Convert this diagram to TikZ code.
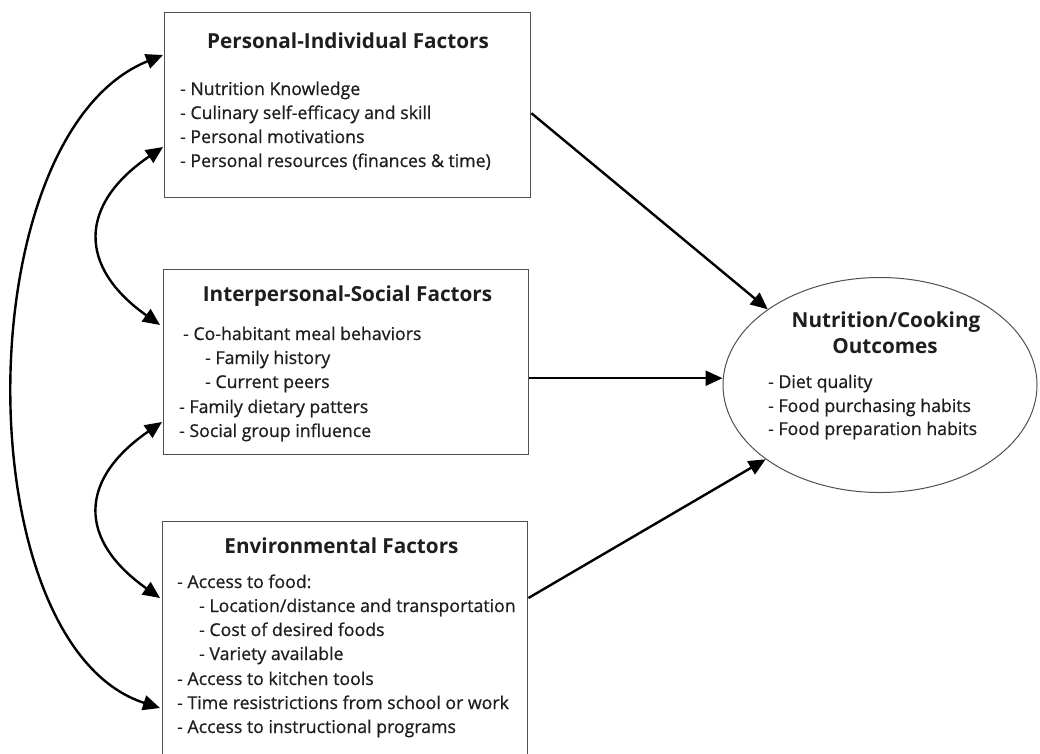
\documentclass[tikz,border=0pt]{standalone}
\usepackage{fontspec}
\setmainfont{Open Sans}
\newfontfamily\bodyfont[BoldFont={Open Sans}, BoldFeatures={FakeBold=0.7}]{Open Sans}
\usetikzlibrary{arrows.meta,shapes.geometric,calc}
\definecolor{boxgray}{HTML}{505050}
\definecolor{txt}{HTML}{1E1E1E}
\begin{document}
\begin{tikzpicture}[x=1pt,y=-1pt,
  box/.style={draw=boxgray, line width=1.4pt, rectangle, inner sep=0pt, anchor=north west},
  ttl/.style={font=\fontsize{20.7}{24}\selectfont\bfseries, text=txt, inner sep=0pt, anchor=base},
  ln/.style={font=\bodyfont\bfseries\fontsize{17.7}{20}\selectfont, text=txt, inner sep=0pt, anchor=base west},
  arr/.style={line width=2.4pt, -{Triangle[length=17pt,width=15pt]}},
  darr/.style={line width=2.4pt, {Triangle[length=17pt,width=15pt]}-{Triangle[length=17pt,width=15pt]}},
]
\useasboundingbox (0,0) rectangle (1040,753);
\clip (0,0) rectangle (1040,753);
\fill[white] (0,0) rectangle (1040,753);

% boxes
\node[box, minimum width=366pt, minimum height=185pt] (p1) at (164,12) {};
\node[box, minimum width=365pt, minimum height=185pt] (p2) at (163,269) {};
\node[box, minimum width=365pt, minimum height=260pt] (p3) at (162,521) {};
\node[ellipse, draw=boxgray, line width=1pt, inner sep=0pt,
      minimum width=314pt, minimum height=215pt] (o) at (880,385) {};

% box 1 text
\node[ttl] (t1) at (348,48) {Personal-Individual Factors};
\foreach \x/\y/\t [count=\i] in {
  180/95/{- Nutrition Knowledge},
  180/119/{- Culinary self-efficacy and skill},
  180/143/{- Personal motivations},
  180/167/{- Personal resources (finances \& time)}}
  \node[ln] (a\i) at (\x,\y) {\t};

% box 2 text
\node[ttl] (t2) at (347.5,301) {Interpersonal-Social Factors};
\foreach \x/\y/\t [count=\i] in {
  183/340/{- Co-habitant meal behaviors},
  205/364/{- Family history},
  205/388/{- Current peers},
  179/413/{- Family dietary patters},
  179/437/{- Social group influence}}
  \node[ln] (b\i) at (\x,\y) {\t};

% box 3 text
\node[ttl] (t3) at (341.5,553) {Environmental Factors};
\foreach \x/\y/\t [count=\i] in {
  177/588/{- Access to food:},
  199/612/{- Location/distance and transportation},
  199/636/{- Cost of desired foods},
  199/660/{- Variety available},
  177/685/{- Access to kitchen tools},
  177/709/{- Time resistrictions from school or work},
  177/733/{- Access to instructional programs}}
  \node[ln] (c\i) at (\x,\y) {\t};

% ellipse text
\node[ttl] (t4) at (886,327) {Nutrition/Cooking};
\node[ttl] (t5) at (885,353) {Outcomes};
\foreach \x/\y/\t [count=\i] in {
  768/388/{- Diet quality},
  768/412/{- Food purchasing habits},
  768/435/{- Food preparation habits}}
  \node[ln] (d\i) at (\x,\y) {\t};

% arrows to outcome
\draw[arr] ($(p1.east)+(0,8)$) -- (o.146);
\coordinate (s2) at ($(p2.east)+(0,16)$);
\draw[arr] (s2) -- (s2 -| o.west);
\draw[arr] ($(p3.north east)+(0,77)$) -- (o.213);

% double arrows on the left
\draw[darr] ($(p1.north west)+(-1,43)$) .. controls (-35,135) and (-35,645) .. ($(p3.north west)+(-2,187)$);
\draw[darr] ($(p1.north west)+(-1,135)$) .. controls (78,205) and (78,267) .. ($(p2.north west)+(-3,56)$);
\draw[darr] ($(p2.north west)+(-1,153)$) .. controls (78,480) and (78,540) .. ($(p3.north west)+(-2,77)$);
\end{tikzpicture}
\end{document}
